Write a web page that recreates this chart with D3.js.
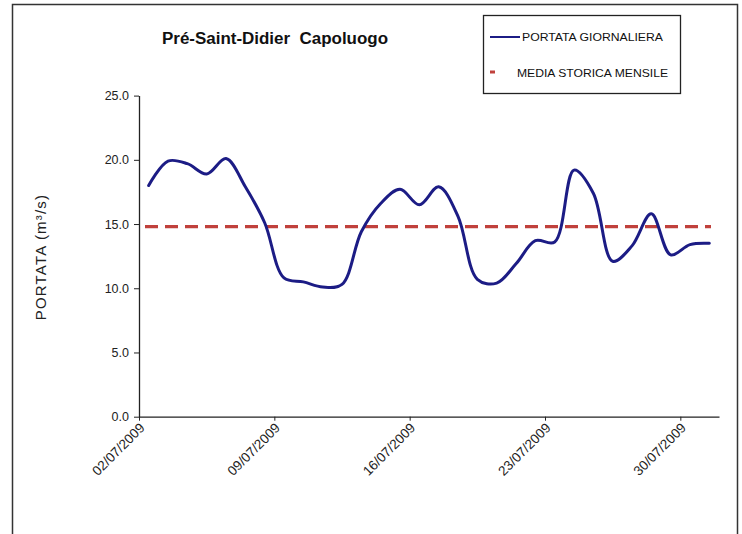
<!DOCTYPE html>
<html><head><meta charset="utf-8">
<script src="https://cdn.jsdelivr.net/npm/d3@7"></script>
<style>
html,body{margin:0;padding:0;background:#fff;}
svg{display:block;font-family:Arial,"Liberation Sans",sans-serif;}
</style></head>
<body>
<svg id="c" width="742" height="534"></svg>
<script>
const dates = ["02/07/2009","03/07/2009","04/07/2009","05/07/2009","06/07/2009","07/07/2009","08/07/2009",
"09/07/2009","10/07/2009","11/07/2009","12/07/2009","13/07/2009","14/07/2009","15/07/2009",
"16/07/2009","17/07/2009","18/07/2009","19/07/2009","20/07/2009","21/07/2009","22/07/2009",
"23/07/2009","24/07/2009","25/07/2009","26/07/2009","27/07/2009","28/07/2009","29/07/2009",
"30/07/2009","31/07/2009"];
const portata = [18.0,19.9,19.7,18.9,20.1,17.9,15.1,10.8,10.5,10.1,10.3,14.4,16.6,17.7,
16.5,17.9,15.6,10.7,10.4,11.9,13.7,13.6,19.2,17.4,12.1,13.3,15.8,12.6,13.4,13.5];
const mediaStorica = 14.8;
const yTicks = [0,5,10,15,20,25];
const xTickLabels = ["02/07/2009","09/07/2009","16/07/2009","23/07/2009","30/07/2009"];
const title = "Pré-Saint-Didier  Capoluogo";
const yTitle = "PORTATA (m³/s)";
const legendLabels = ["PORTATA GIORNALIERA","MEDIA STORICA MENSILE"];

(function(){
const svg = d3.select("#c");
const parse = d3.timeParse("%d/%m/%Y");
const mLeft = 139, mRight = 719, mTop = 95.6, mBottom = 416.7;

// outer frame
svg.append("path").attr("d","M12.5,534 L12.5,4.5 L737.5,4.5 L737.5,534")
  .attr("fill","none").attr("stroke","#333").attr("stroke-width",1.5);

const start = parse(dates[0]);
const end = d3.timeDay.offset(parse(dates[dates.length-1]),1);
const x = d3.scaleTime().domain([start,end]).range([mLeft,mRight]);
const y = d3.scaleLinear().domain([0,25]).range([mBottom,mTop]);
const mid = d => d3.timeHour.offset(parse(d),12);

// y axis
const yAxis = svg.append("g").attr("transform",`translate(${mLeft},0)`)
  .call(d3.axisLeft(y).tickValues(yTicks).tickFormat(d3.format(".1f")).tickSize(5).tickSizeOuter(0));
yAxis.select(".domain").attr("stroke","#222").attr("stroke-width",1.3);
yAxis.selectAll(".tick line").attr("stroke","#222");
yAxis.selectAll("text").attr("font-size",12.5).attr("fill","#222").attr("dx",-2);

// x axis
const xAxis = svg.append("g").attr("transform",`translate(0,${mBottom})`)
  .call(d3.axisBottom(x).tickValues(xTickLabels.map(parse)).tickFormat(d3.timeFormat("%d/%m/%Y")).tickSize(4).tickSizeOuter(0));
xAxis.select(".domain").attr("stroke","#222").attr("stroke-width",1.3);
xAxis.selectAll(".tick line").attr("stroke","#222");
xAxis.selectAll("text").attr("font-size",13.5).attr("fill","#222")
  .attr("text-anchor","end").attr("dy",0).attr("y",0)
  .attr("transform","translate(6,12) rotate(-45)");

// mean line
svg.append("line").attr("x1",x(start)+6).attr("x2",x(end)-8)
  .attr("y1",y(mediaStorica)).attr("y2",y(mediaStorica))
  .attr("stroke","#c0413c").attr("stroke-width",3.2).attr("stroke-dasharray","13,7");

// daily flow line
const line = d3.line().x(d=>x(mid(d.date))).y(d=>y(d.v)).curve(d3.curveCatmullRom.alpha(0.5));
svg.append("path").datum(dates.map((d,i)=>({date:d,v:portata[i]})))
  .attr("d",line).attr("fill","none").attr("stroke","#1c1c85").attr("stroke-width",3)
  .attr("stroke-linejoin","round").attr("stroke-linecap","round");

// title
svg.append("text").attr("x",275).attr("y",44).attr("text-anchor","middle")
  .style("white-space","pre").attr("xml:space","preserve")
  .attr("font-size",16).attr("font-weight","bold").attr("fill","#111")
  .attr("textLength",226).attr("lengthAdjust","spacingAndGlyphs").text(title);

// y title
svg.append("text").attr("transform","translate(46,257) rotate(-90)").attr("text-anchor","middle")
  .attr("font-size",15).attr("fill","#222").attr("letter-spacing",1.2).text(yTitle);

// legend
const lg = svg.append("g");
lg.append("rect").attr("x",483.5).attr("y",15.5).attr("width",197).attr("height",78)
  .attr("fill","#fff").attr("stroke","#222").attr("stroke-width",1.3);
lg.append("line").attr("x1",490).attr("x2",520).attr("y1",37).attr("y2",37)
  .attr("stroke","#1c1c85").attr("stroke-width",2);
lg.append("text").attr("x",522).attr("y",41).attr("font-size",11.5).attr("fill","#111")
  .attr("textLength",141).attr("lengthAdjust","spacingAndGlyphs").text(legendLabels[0]);
lg.append("rect").attr("x",490).attr("y",70.5).attr("width",5).attr("height",3).attr("fill","#c0413c");
lg.append("text").attr("x",517).attr("y",77).attr("font-size",11.5).attr("fill","#111")
  .attr("textLength",151).attr("lengthAdjust","spacingAndGlyphs").text(legendLabels[1]);
})();
</script>
</body></html>
